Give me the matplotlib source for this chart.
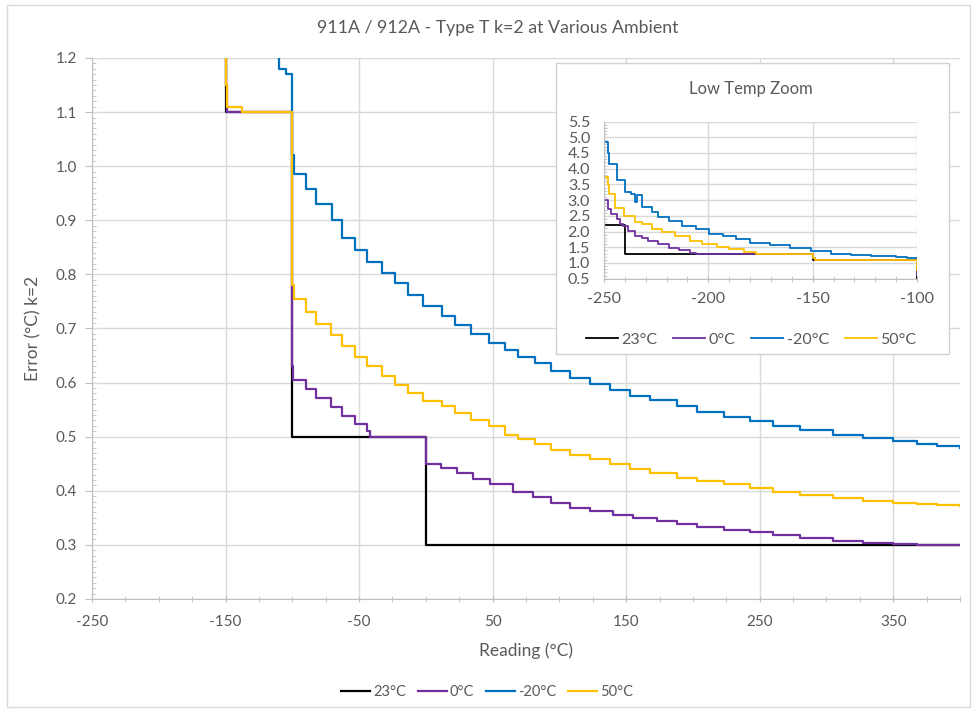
import matplotlib.pyplot as plt
from matplotlib.patches import Rectangle
from matplotlib.ticker import MultipleLocator, FormatStrFormatter

plt.rcParams['font.family'] = ['Lato', 'DejaVu Sans']
plt.rcParams['axes.unicode_minus'] = False

# series names and colours (Excel style)
names = ["23°C", "0°C", "-20°C", "50°C"]
colors = ["#000000", "#7030A0", "#0070C0", "#FFC000"]

# reading (°C) where each level starts, and error (°C) k=2
amb23_x = [-250, -240, -150, -100, 0, 400]
amb23_y = [2.2, 1.3, 1.1, 0.5, 0.3, 0.3]

amb0_x = [-250, -248, -246.6, -244, -242.5, -241, -238.5, -235, -232, -229,
          -224, -219, -214, -209, -206, -150, -149, -100, -99.5, -90, -82,
          -71, -63, -53, -44, -42, 0, 11, 23, 35, 48, 65, 80, 94, 108, 123,
          140, 155, 173, 188, 203, 223, 243, 260, 280, 305, 327, 350, 368, 400]
amb0_y = [3.0, 2.72, 2.56, 2.4, 2.24, 2.18, 2.02, 1.86, 1.8, 1.7,
          1.59, 1.48, 1.41, 1.32, 1.3, 1.15, 1.1, 0.63, 0.605, 0.588, 0.572,
          0.554, 0.539, 0.523, 0.511, 0.5, 0.45, 0.442, 0.433, 0.421, 0.412, 0.397, 0.388, 0.378, 0.369, 0.362,
          0.355, 0.349, 0.344, 0.338, 0.333, 0.328, 0.323, 0.318, 0.313, 0.308, 0.304, 0.302, 0.3, 0.3]

amb_m20_x = [-250, -248, -247.4, -244, -240, -237, -235, -234, -232, -227,
             -224, -219, -212.6, -206, -199.6, -193, -186.6, -180, -170.4,
             -160.7, -151, -141, -131.5, -122, -110, -105, -100, -99, -90,
             -82, -70.5, -63, -53, -44, -33, -23, -13, -2, 12, 22, 34, 47,
             59, 69, 82, 94, 108, 123, 138, 153, 168, 188, 203, 223, 243,
             260, 280, 305, 327, 350, 368, 383, 400]
amb_m20_y = [4.85, 4.5, 4.15, 3.65, 3.25, 3.2, 2.95, 3.15, 2.78, 2.62,
             2.45, 2.35, 2.18, 2.08, 1.92, 1.86, 1.75, 1.65, 1.56,
             1.48, 1.38, 1.3, 1.24, 1.21, 1.18, 1.17, 1.02, 0.985, 0.957,
             0.93, 0.9, 0.868, 0.845, 0.822, 0.803, 0.785, 0.762, 0.742, 0.724, 0.706, 0.69, 0.674,
             0.66, 0.648, 0.636, 0.622, 0.609, 0.597, 0.587, 0.576, 0.567, 0.557, 0.545, 0.537, 0.529,
             0.52, 0.513, 0.504, 0.498, 0.492, 0.487, 0.483, 0.48]

amb50_x = [-250, -248, -247.4, -244.6, -240.4, -235, -232, -227, -222, -215.8,
           -209, -203, -196, -190, -183, -177, -150, -149, -138, -100, -99,
           -90, -82, -71, -63, -53, -44, -33, -23, -13, -2, 12, 22, 34, 47,
           59, 69, 82, 94, 108, 123, 138, 153, 168, 188, 203, 223, 243, 260,
           280, 305, 327, 350, 368, 383, 400]
amb50_y = [3.75, 3.48, 3.18, 2.75, 2.48, 2.3, 2.24, 2.08, 1.97, 1.86,
           1.7, 1.6, 1.52, 1.43, 1.36, 1.3, 1.15, 1.11, 1.1, 0.78, 0.755,
           0.731, 0.709, 0.688, 0.667, 0.648, 0.63, 0.612, 0.596, 0.58, 0.566, 0.557, 0.544, 0.531, 0.52,
           0.504, 0.495, 0.486, 0.476, 0.467, 0.458, 0.449, 0.44, 0.433, 0.424, 0.419, 0.412, 0.406, 0.397,
           0.392, 0.386, 0.382, 0.377, 0.375, 0.373, 0.371]

xs = [amb23_x, amb0_x, amb_m20_x, amb50_x]
ys = [amb23_y, amb0_y, amb_m20_y, amb50_y]

grey_txt = "#595959"
grey_grid = "#d9d9d9"
grey_axis = "#bfbfbf"

fig = plt.figure(figsize=(9.77, 7.13), dpi=100)

# outer chart border
fig.add_artist(Rectangle((0.007, 0.008), 0.986, 0.985, transform=fig.transFigure,
                         facecolor="white", edgecolor="#d9d9d9", lw=1, zorder=-5))

ax = fig.add_axes([92 / 977, 1 - 599 / 713, 868 / 977, 541 / 713])
for x, y, n, c in zip(xs, ys, names, colors):
    ax.step(x, y, where="post", color=c, lw=1.6, label=n)

ax.set_xlim(-250, 400)
ax.set_ylim(0.2, 1.2)
ax.set_xticks([-250, -150, -50, 50, 150, 250, 350])
ax.xaxis.set_minor_locator(MultipleLocator(25))
ax.yaxis.set_major_locator(MultipleLocator(0.1))
ax.yaxis.set_minor_locator(MultipleLocator(0.01))
ax.yaxis.set_major_formatter(FormatStrFormatter("%.1f"))
ax.grid(True, which="major", color=grey_grid, lw=1)
ax.set_axisbelow(True)
for s in ["top", "right"]:
    ax.spines[s].set_visible(False)
for s in ["left", "bottom"]:
    ax.spines[s].set_color(grey_axis)
ax.tick_params(which="both", colors=grey_axis, labelcolor=grey_txt, labelsize=11)
ax.tick_params(axis="x", which="both", direction="inout", length=5, pad=9)
ax.tick_params(axis="y", which="major", direction="out", length=5, pad=6)
ax.tick_params(axis="y", which="minor", direction="in", length=3)
ax.set_xlabel("Reading (°C)", color=grey_txt, fontsize=12.5, labelpad=10)
ax.set_ylabel("Error (°C) k=2", color=grey_txt, fontsize=12.5, labelpad=10)
ax.legend(loc="upper center", bbox_to_anchor=(0.455, -0.135), ncol=4, frameon=False,
          fontsize=10.5, labelcolor=grey_txt, handlelength=2.0, handletextpad=0.2,
          columnspacing=0.8)

fig.text(498 / 977, 1 - 28 / 713, "911A / 912A - Type T k=2 at Various Ambient",
         ha="center", va="center", color=grey_txt, fontsize=12.8)

# inset box
fig.add_artist(Rectangle((556 / 977, 1 - 354 / 713), 393 / 977, 291 / 713,
                         transform=fig.transFigure, facecolor="white",
                         edgecolor="#d0d0d0", lw=1, zorder=1))

ax2 = fig.add_axes([604 / 977, 1 - 278.7 / 713, 313 / 977, 157.2 / 713])
ax2.set_zorder(2)
for x, y, n, c in zip(xs, ys, names, colors):
    ax2.step(x, y, where="post", color=c, lw=1.3, label=n)
ax2.set_xlim(-250, -100)
ax2.set_ylim(0.5, 5.5)
ax2.set_xticks([-250, -200, -150, -100])
ax2.xaxis.set_minor_locator(MultipleLocator(10))
ax2.yaxis.set_major_locator(MultipleLocator(0.5))
ax2.yaxis.set_minor_locator(MultipleLocator(0.1))
ax2.yaxis.set_major_formatter(FormatStrFormatter("%.1f"))
ax2.grid(True, which="major", color=grey_grid, lw=1)
ax2.set_axisbelow(True)
for s in ["top", "right"]:
    ax2.spines[s].set_visible(False)
for s in ["left", "bottom"]:
    ax2.spines[s].set_color(grey_axis)
ax2.tick_params(which="both", colors=grey_axis, labelcolor=grey_txt, labelsize=11.5)
ax2.tick_params(axis="x", which="both", direction="inout", length=5, pad=7)
ax2.tick_params(axis="y", which="major", direction="out", length=0, pad=10)
ax2.tick_params(axis="y", which="minor", direction="in", length=2)
ax2.legend(loc="upper center", bbox_to_anchor=(0.47, -0.25), ncol=4, frameon=False,
           fontsize=11.5, labelcolor=grey_txt, handlelength=2.0, handletextpad=0.2,
           columnspacing=1.0)
fig.text(751 / 977, 1 - 89 / 713, "Low Temp Zoom", ha="center", va="center",
         color=grey_txt, fontsize=12)

fig.savefig("out.png", dpi=100)
